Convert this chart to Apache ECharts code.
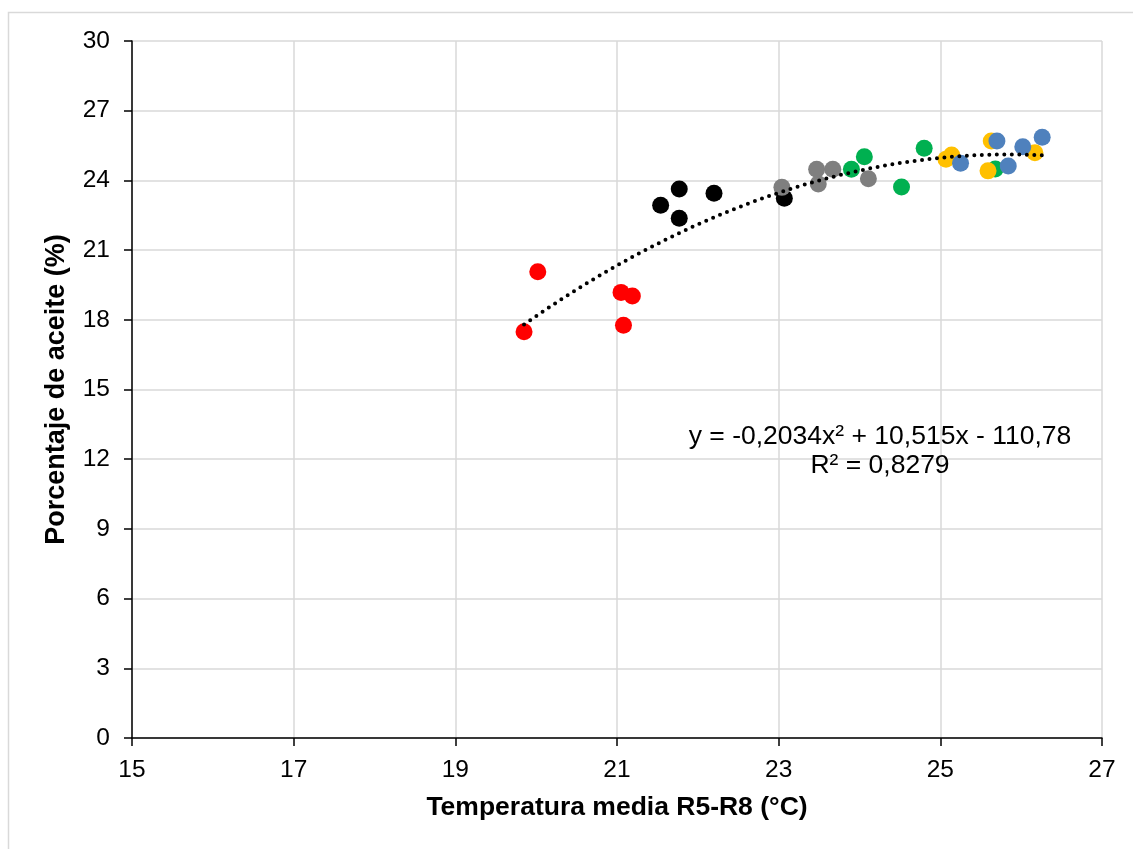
<!DOCTYPE html>
<html>
<head>
<meta charset="utf-8">
<script src="https://cdn.jsdelivr.net/npm/echarts@6/dist/echarts.min.js"></script>
<style>html,body{margin:0;padding:0;background:#fff}#c{width:1133px;height:849px}</style>
</head>
<body>
<div id="c"></div>
<script>
var redPts = [[19.85,17.49],[20.02,20.07],[21.05,19.18],[21.19,19.02],[21.08,17.77]];
var blackPts = [[21.54,22.93],[21.77,23.63],[21.77,22.37],[22.20,23.45],[23.07,23.23]];
var grayPts = [[23.04,23.70],[23.47,24.48],[23.49,23.85],[23.67,24.48],[24.11,24.07]];
var greenPts = [[23.90,24.48],[24.06,25.02],[24.52,23.72],[24.80,25.38],[25.68,24.49]];
var yellowPts = [[25.07,24.91],[25.14,25.09],[25.63,25.70],[25.59,24.41],[26.17,25.19]];
var bluePts = [[25.25,24.74],[25.70,25.70],[25.84,24.62],[26.02,25.45],[26.26,25.86]];
var trendCoef = [-0.2034, 10.515, -110.78];
var xTicks = [15,17,19,21,23,25,27];
var yTicks = [0,3,6,9,12,15,18,21,24,27,30];
var eqLine1 = 'y = -0,2034x² + 10,515x - 110,78';
var eqLine2 = 'R² = 0,8279';

var allX = [].concat(redPts,blackPts,grayPts,greenPts,yellowPts,bluePts).map(function(p){return p[0];});
var xMin = Math.min.apply(null, allX), xMax = Math.max.apply(null, allX);
var trend = [];
for (var i = 0; i <= 100; i++) {
  var x = xMin + (xMax - xMin) * i / 100;
  trend.push([x, trendCoef[0]*x*x + trendCoef[1]*x + trendCoef[2]]);
}

var font = 'Liberation Sans, Arial, sans-serif';
function sc(name, data, color) {
  return {name: name, type: 'scatter', data: data, symbolSize: 17,
    itemStyle: {color: color, opacity: 1}, z: 3};
}
var chart = echarts.init(document.getElementById('c'), null, {renderer: 'canvas'});
chart.setOption({
  backgroundColor: '#fff',
  animation: false,
  grid: {left: 132, right: 31, top: 41, bottom: 111, containLabel: false},
  xAxis: {type: 'value', min: xTicks[0], max: xTicks[xTicks.length-1], interval: 2,
    name: 'Temperatura media R5-R8 (°C)', nameLocation: 'middle', nameGap: 70,
    nameTextStyle: {fontFamily: font, fontSize: 26.5, fontWeight: 'bold', color: '#000', verticalAlign: 'middle'},
    axisLine: {show: true, onZero: false, lineStyle: {color: '#000', width: 1.5}},
    axisTick: {show: true, length: 8, lineStyle: {color: '#000', width: 1.5}},
    axisLabel: {fontFamily: font, fontSize: 24.5, color: '#000', margin: 20},
    splitLine: {show: true, lineStyle: {color: '#d9d9d9', width: 1.5}}},
  yAxis: {type: 'value', min: yTicks[0], max: yTicks[yTicks.length-1], interval: 3,
    name: 'Porcentaje de aceite (%)', nameLocation: 'middle', nameGap: 75, nameRotate: 90,
    nameTextStyle: {fontFamily: font, fontSize: 27, fontWeight: 'bold', color: '#000', verticalAlign: 'middle'},
    axisLine: {show: true, onZero: false, lineStyle: {color: '#000', width: 1.5}},
    axisTick: {show: true, length: 8, lineStyle: {color: '#000', width: 1.5}},
    axisLabel: {fontFamily: font, fontSize: 24.5, color: '#000', margin: 22},
    splitLine: {show: true, lineStyle: {color: '#d9d9d9', width: 1.5}}},
  series: [
    {name: 'trend', type: 'line', data: trend, showSymbol: false, symbol: 'none', z: 4,
      lineStyle: {color: '#000', width: 4, type: [0, 7.5], cap: 'round'}},
    sc('red', redPts, '#ff0000'),
    sc('black', blackPts, '#000000'),
    sc('gray', grayPts, '#7f7f7f'),
    sc('green', greenPts, '#00b050'),
    sc('yellow', yellowPts, '#ffc000'),
    sc('blue', bluePts, '#4f81bd')
  ],
  graphic: [
    {type: 'rect', shape: {x: 8.5, y: 12.5, width: 1200, height: 900},
      style: {fill: 'none', stroke: '#d9d9d9', lineWidth: 1.5}, silent: true},
    {type: 'text', x: 880, y: 437, style: {text: eqLine1, fill: '#000', font: '26.5px ' + font, align: 'center', verticalAlign: 'middle'}, z: 10},
    {type: 'text', x: 880, y: 466, style: {text: eqLine2, fill: '#000', font: '26.5px ' + font, align: 'center', verticalAlign: 'middle'}, z: 10}
  ]
});
</script>
</body>
</html>
